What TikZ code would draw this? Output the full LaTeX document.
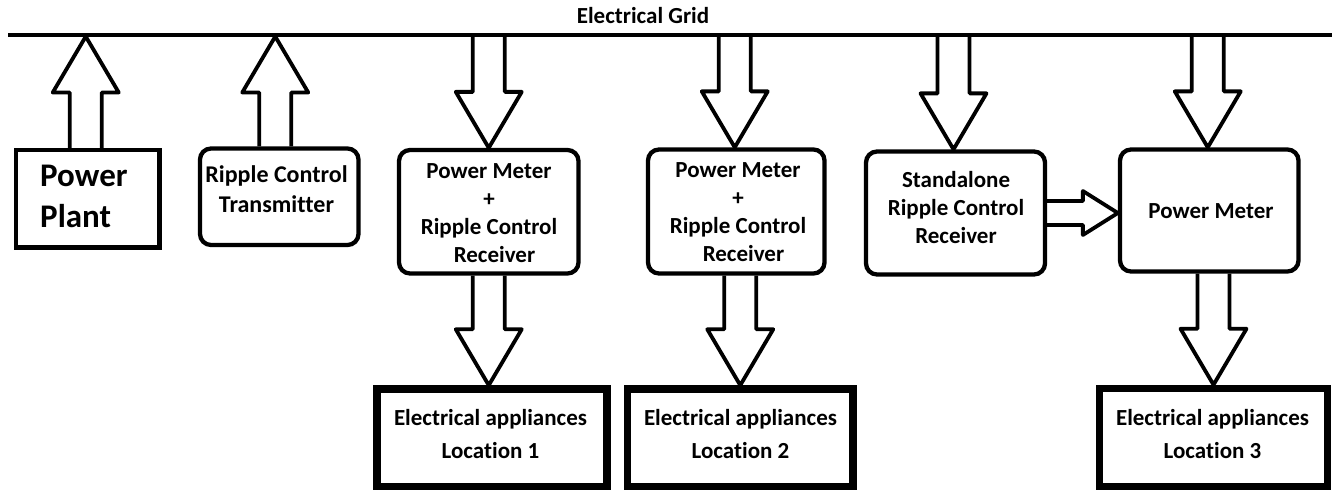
\documentclass[tikz,border=0pt]{standalone}
\usepackage{fontspec}
\setmainfont{Carlito}[Ligatures=NoCommon]
\usetikzlibrary{calc}
\tikzset{
  rbox/.style={draw, line width=4.3pt, inner sep=0pt, rounded corners=11pt},
  sqbox/.style={draw, line width=4.5pt, inner sep=0pt},
  locbox/.style={draw, line width=7.5pt, inner sep=0pt},
  blk/.style={draw, line width=3.8pt, line join=round},
  gridline/.style={line width=3.5pt},
  txt/.style={inner sep=0pt, font=\fontsize{23}{28}\selectfont\bfseries},
  loctxt/.style={inner sep=0pt, font=\fontsize{23}{33}\selectfont\bfseries},
}
% block arrow: from, to, shaft half width, head half width, head length
\newcommand\blockarr[5]{%
  \coordinate (hb) at ($(#2)!#5!(#1)$);
  \draw[blk] ($(#1)!#3!90:(#2)$) -- ($(hb)!#3!90:(#2)$) -- ($(hb)!#4!90:(#2)$)
    -- (#2) -- ($(hb)!#4!-90:(#2)$) -- ($(hb)!#3!-90:(#2)$) -- ($(#1)!#3!-90:(#2)$);}
\newcommand\bigarr[2]{\blockarr{#1}{#2}{16pt}{33pt}{56pt}}
\begin{document}
\begin{tikzpicture}[x=1pt,y=-1pt]
\useasboundingbox (0,0) rectangle (1333,490);
% grid
\coordinate (gridL) at (8,35);
\coordinate (gridR) at (1332,35);
\coordinate (gridB) at (8,36.5);
\draw[gridline] (gridL) -- (gridR);
\node[txt, anchor=base] (gridT) at (643,23) {Electrical Grid};
% boxes
\node[sqbox, minimum width=143.5pt, minimum height=97.5pt] (pp) at (87.75,198.75) {};
\node[rbox, minimum width=158.5pt, minimum height=96.5pt] (tx) at (279.25,196.75) {};
\node[rbox, minimum width=179.5pt, minimum height=123.5pt] (pm1) at (488.75,211.75) {};
\node[rbox, minimum width=176.5pt, minimum height=124pt] (pm2) at (736.25,211.5) {};
\node[rbox, minimum width=179pt, minimum height=123pt] (sa) at (955.5,213) {};
\node[rbox, minimum width=178.5pt, minimum height=122pt] (pm) at (1209.25,210.5) {};
\node[locbox, minimum width=230.25pt, minimum height=97.5pt] (loc1) at (491.9,437.75) {};
\node[locbox, minimum width=225.5pt, minimum height=97.5pt] (loc2) at (740.25,437.75) {};
\node[locbox, minimum width=228pt, minimum height=98pt] (loc3) at (1213.5,437.5) {};
% texts
\node[inner sep=0pt, font=\fontsize{33}{41}\selectfont\bfseries, anchor=west] (ppT) at (40,198.3)
  {\begin{tabular}{@{}l@{}}Power\\Plant\end{tabular}};
\node[inner sep=0pt, font=\fontsize{24}{30}\selectfont\bfseries] (txT) at (276.5,191)
  {\begin{tabular}{@{}c@{}}Ripple Control\\Transmitter\end{tabular}};
\node[txt] (pm1T) at (489,214.4)
  {\begin{tabular}{@{}c@{}}Power Meter\hspace{12pt}\\+\\Ripple Control\\\hspace{11pt}Receiver\end{tabular}};
\node[txt] (pm2T) at (738,213.4)
  {\begin{tabular}{@{}c@{}}Power Meter\hspace{12pt}\\+\\Ripple Control\\\hspace{11pt}Receiver\end{tabular}};
\node[txt] (saT) at (956,209.4)
  {\begin{tabular}{@{}c@{}}Standalone\\Ripple Control\\Receiver\end{tabular}};
\node[txt, anchor=base] (pmT) at (1211,218) {Power Meter};
\node[loctxt] (loc1T) at (490.5,434.9)
  {\begin{tabular}{@{}c@{}}Electrical appliances\\Location 1\end{tabular}};
\node[loctxt] (loc2T) at (740.5,434.9)
  {\begin{tabular}{@{}c@{}}Electrical appliances\\Location 2\end{tabular}};
\node[loctxt] (loc3T) at (1212.5,434.9)
  {\begin{tabular}{@{}c@{}}Electrical appliances\\Location 3\end{tabular}};
% arrow end points
\coordinate (ppS) at ([xshift=-2pt]pp.north);
\coordinate (txS) at ([xshift=-4pt]tx.north);
\coordinate (pm2E) at ([xshift=-1.5pt]pm2.north);
\coordinate (saE) at ([xshift=-2pt]sa.north);
\coordinate (pmE) at ([xshift=-1.5pt]pm.north);
% up arrows to the grid
\bigarr{ppS}{ppS |- gridB}
\bigarr{txS}{txS |- gridB}
% down arrows from the grid
\bigarr{pm1.north |- gridL}{pm1.north}
\bigarr{pm2E |- gridL}{pm2E}
\bigarr{saE |- gridL}{saE}
\bigarr{pmE |- gridL}{pmE}
% down arrows to the appliances
\bigarr{pm1.south}{pm1.south |- loc1.north}
\bigarr{pm2.south -| loc2.north}{loc2.north}
\bigarr{pm.south -| loc3.north}{loc3.north}
% receiver to meter
\blockarr{sa.east}{sa.east -| pm.west}{12pt}{22pt}{35pt}
\end{tikzpicture}
\end{document}
